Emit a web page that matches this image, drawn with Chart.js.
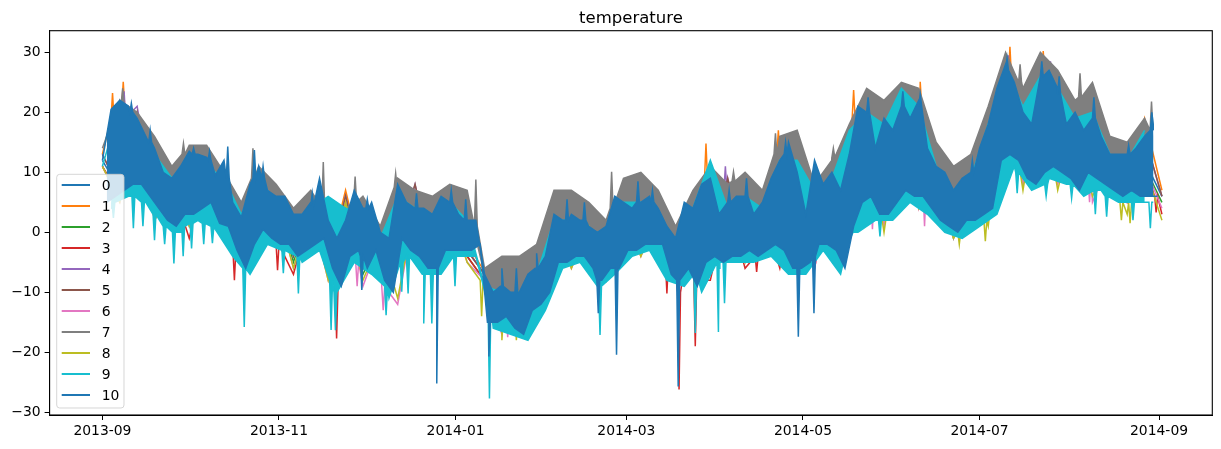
<!DOCTYPE html>
<html>
<head>
<meta charset="utf-8">
<title>temperature</title>
<script src="https://cdn.jsdelivr.net/npm/chart.js@4.4.1/dist/chart.umd.min.js"></script>
<style>
  html, body { margin: 0; padding: 0; background: #fff; }
</style>
</head>
<body>
<canvas id="chart" width="1221" height="449"></canvas>
<script>
// x values are days since 2013-09-01
const tickDays = [0, 61, 122, 181, 242, 303, 365];
const tickLabels = ['2013-09', '2013-11', '2014-01', '2014-03', '2014-05', '2014-07', '2014-09'];
const yTicks = [-30, -20, -10, 0, 10, 20, 30];
const seriesNames = ['0', '1', '2', '3', '4', '5', '6', '7', '8', '9', '10'];
const colors = ['#1f77b4', '#ff7f0e', '#2ca02c', '#d62728', '#9467bd', '#8c564b',
                '#e377c2', '#7f7f7f', '#bcbd22', '#17becf', '#1f77b4'];

// highs and lows, one pair per step of days,
// plus the short spikes that stick out of the band: [days, peak values, level around them]

// series 10 (on top) every 3 days
const s10Hi = [12,20.5,22,21,19,16,14,10,9,11,13.5,13,12.5,9.5,12,5,2.5,8,11,7,6,
  6,3,3,5,9,2,-1,2,7,4,5,0,-1,8,5,4,4,3,6,5,
  3,2,2,-7,-10,-9,-10,-10,-7,-6,-4,3,2,3,2,1,0,1,6,5,
  4,5,6,4,1,-1,5,4,8,9,3,5,6,6,3,5,9,12,15,10,
  3,12,8,10,7,13,21,20,14,19,17,21,19,22,14,11,10,7,9,10,
  14,18,24,28,25,20,18,26,27,24,18,20,17,19,16,13,13,13,14,16,18];
const s10Lo = [5,6,7,8,8,6,4,2,1,3,3,4,5,1.5,1,-3,-6,-2,0.5,-1,-2,
  -2,-4,-3,-2,-1,-6,-9,-4,-3,-6,-3,-8,-10,-1,-3,-4,-6,-6,-3,-3,
  -3,-3,-2,-15,-15,-14,-16,-17,-13,-12,-10,-5,-5,-4,-4,-6,-8,-6,-6,-3,
  -3,-2,-2,-2,-7,-8,-6,-9,-5,-4,-5,-4,-4,-3,-4,-3,-2,-3,-6,-6,
  -5,-2,-2,-3,-6,1,5,6,3,3,5,7,6,6,4,2,1,0,2,2,
  3,4,12,13,12,9,8,10,11,10,9,7,10,9,8,7,6,7,6,6,6];
const s10Peaks = [
  [10, 16.5, 31.5, 37, 43.3, 52.5, 55.5, 72.5, 91.5, 108.5, 120.5, 125.5, 138, 143, 150,
   160.5, 166.5, 185, 190, 216.5, 222.5, 236, 264.5, 276.5, 282.5, 300.5, 312.5, 324.5, 330.5,
   342.5, 354.5, 362.5],
  [21.5, 17, 14, 13.5, 14.3, 13.7, 11, 6.5, 5.5, 6.5, 7, 5.5, -6, -6, -3.5,
   5.5, 5, 8.5, 7, 7, 9, 15, 22.5, 23.5, 23, 12, 29, 28.5, 26,
   22.5, 14.5, 20],
  [20, 15, 13, 12, 9, 9, 9, 4.5, 4, 4, 5, 2, -9, -10, -6,
   2, 2, 5, 5, 5, 6, 13, 20, 21, 21, 10, 27, 26, 23,
   19, 13, 17]];
const s10Dips = [
  [89.6, 115.5, 133.5, 171.3, 177.6, 198.9, 240.4, 245.8],
  [-9.6, -25.2, -20.7, -13.5, -20.4, -25.7, -17.4, -13.5],
  [-4, -6, -15, -8, -6, -8, -6, -4]];

// series 7 and 9 every 6 days
const s7Hi = [14,22,20,16,11,14.5,14.5,10,5,11, 8,4,7,2,4,6,1,9,7,6,
  8,7,-6,-4,-4,-2,7,7,5,2, 9,10,7,1,7,11,8,10,7,16,
  17,8,12,18,24,22,25,24,15,11, 13,21,30,24,30,27,22,25,16,15, 19];
const s7Lo = [8,10,9,5,3,5,6,3,-3,2, 0,-2,0,-4,-2,-2,-6,0,-2,-3,
  -1,-1,-13,-11,-12,-9,-2,-2,-3,-3, -1,0,0,-5,-3,-2,-2,-1,-1,-1,
  -2,0,-1,4,8,6,8,8,4,2, 4,12,14,11,12,11,9,11,8,8, 8];
const s7Peaks = [
  [7, 28, 52, 76.3, 87.3, 101.3, 129, 175.9, 218, 232.5, 252.5, 317, 337.7, 362.4],
  [24, 14.8, 14, 11.7, 9.3, 9.8, 8.8, 10.1, 10.1, 16.5, 14, 28, 26.5, 21.8],
  [21.5, 13, 9, 4, 5, 7.5, 1, 4, 8.5, 13, 12.5, 25, 22.5, 17]];
const s9Hi = [11,21,18,13,9,12,11,9,3,9, 5,2,4,6,4,3,-1,6,4,3,
  5,2,-9,-10,-11,-7,2,2,0,0, 5,5,3,-2,4,12,4,6,4,12,
  12,7,9,17,20,18,24,21,11,7, 9,18,27,21,26,24,19,20,13,12, 17];
const s9Lo = [4,6,5,1,0,2,0.5,-4,-7,-2, -3,-5,-3,-10,-5,-7,-11,-4,-7,-7,
  -4,-4,-16,-17,-18,-13,-6,-5,-9,-7, -4,-3,-8,-9,-10,-6,-5,-5,-4,-7,
  -7,-3,-7,0,2,2,5,3,0,-1, 1,3,11,7,9,8,6,7,5,5, 5];
const s9Dips = [
  [3.8, 10.7, 14, 18, 21.5, 24.7, 27.9, 30.8, 35, 38,
   49, 62.5, 67.7, 79, 80.5, 98, 103.4, 105.6, 111, 113.8,
   121.8, 133.7, 171.9, 204.8, 212.8, 214.9, 258.8, 268.6, 316, 326,
   334.8, 343, 346.9, 356, 362],
  [2.4, 0.7, 1, -1.3, -2, -5.2, -4, -2.7, -2, -1.8,
   -15.8, -6.8, -10.2, -16.3, -16.3, -13.8, -9.9, -10.2, -15.2, -15.2,
   -9, -27.7, -17.1, -16.8, -16.6, -11.8, -0.5, -0.7, 6.5, 6,
   5.7, 3, 2.6, 2, 0.7],
  [5, 6, 5, 3, 1, 0, 1, 1.5, 1.5, 1,
   -6, -3, -4, -8, -10, -9, -5, -4, -7, -7,
   -4, -12, -9, -7, -5, -5, 0, 2, 10, 8,
   8, 7, 6, 5, 5]];

// the rest every 12 days
const s0Hi = [12,19,9,13,4,6,5,6,0,5,5,-7,-9,3,2,5,4,4,5,5,10,10,20,21,11,10,28,26,20,13,12];
const s0Lo = [7,4,3,1,0,-4,-6,-6,-1,-5,-3,-14,-12,-4,-6,-2,-7,-4,-3,-3,-2,1,3,6,0,4,9,10,9,7,6];
const s1Hi = [13,19,10,13,4,7,6,7,0,6,7,-6.5,-5,6,4,8,6,6,7,6,16,11,23,23,14,12,29,28.5,21,15,19];
const s1Lo = [7,5,3,2,0,-3,-5,-5,-1,-4,-2,-13,-11,-3,-5,-1,-6,-3,-2,-2,-1,2,4,7,1,5,10,11,10,8,7];
const s1Peaks = [
  [3.5, 7.2, 208.5, 233.5, 259.5, 264.5, 282.5, 313.5, 325],
  [23.2, 25.1, 14.8, 17, 23.7, 23.2, 25.1, 30.9, 30.2],
  [19, 21, 9, 13, 19, 19, 21, 26, 26]];
const s2Hi = [11,18,8,12,3,5,4,5,-1,4,4,-8,-10,2,1,4,3,3,4,4,9,9,19,20,10,9,26,25,19,12,11];
const s2Lo = [6,3,2,0,-1,-5,-7,-7,-2,-6,-4,-15,-13,-5,-7,-3,-8,-5,-4,-4,-3,0,2,5,-1,3,8,9,8,6,5];
const s3Hi = [11,19,8,12,3,5,4,5,-1,5,4,-8,-10,2,1,4,3,3,5,4,9,9,19,20,10,9,26,25,19,12,11];
const s3Lo = [6,2,-1,1,-3,-7,-6,-5,-6,-5,-4,-15,-13,-5,-7,-3,-7,-8,-6,-6,-6,2,4,6,1,4,10,10,9,5,3];
const s3Dips = [
  [45.6, 60.5, 80.9, 195, 199.2, 204.8, 226, 364],
  [-8, -6.3, -17.7, -10.2, -26.2, -19, -6.6, 3.3],
  [-3, -2, -9, -5, -10, -8, -4, 6]];
const s4Hi = [13,21,9,14,4,7,6,6,0,8,6,-7,-6,4,3,7,5,6,9,6,14,12,22,21,12,10,28,29,21,14,16];
const s4Lo = [7,4,3,1,-1,-4,-6,-6,-2,-5,-3,-14,-12,-4,-6,-2,-7,-4,-3,-3,-2,1,3,6,0,4,9,10,9,7,6];
const s4Peaks = [[7.5, 215.2, 313, 327.5], [23.5, 11, 29.5, 28.5], [19, 7, 25, 24]];
const s5Hi = [13,20,9,13,4,7,6,6,0,8,6,-7,-7,4,3,7,5,6,9,6,14,12,22,21,12,10,28,28,21,14,16];
const s5Lo = [7,4,3,1,-1,-4,-6,-6,-2,-5,-3,-13,-12,-4,-6,-2,-7,-4,-3,-3,-2,1,3,6,0,4,9,10,9,7,6];
const s6Hi = [11,18,8,12,3,5,4,5,-1,4,4,-8,-10,2,1,4,3,3,4,4,9,9,19,20,10,9,26,25,19,12,11];
const s6Lo = [5,2,1,-1,-3,-6,-8,-9,-12,-7,-5,-17,-14,-6,-8,-4,-8,-6,-5,-5,-6,-1,1,4,-1,3,8,8,5,5,4];
const s6Dips = [
  [88, 97, 140, 145, 266, 270, 284, 341],
  [-9, -13, -17.5, -17.5, 0.5, 0.5, 1, 5],
  [-5, -9, -13, -13, 6, 7, 7, 9]];
const s8Hi = [11,18,8,12,3,5,4,5,-1,4,4,-8,-10,2,1,4,3,3,4,4,9,9,19,20,10,9,26,25,19,12,11];
const s8Lo = [5,2,1,-1,-3,-6,-8,-8,-11,-7,-5,-16,-14,-6,-8,-4,-8,-6,-5,-5,-5,-1,0,4,-1,1,7,7,6,3,2];
const s8Dips = [
  [131, 138, 143, 296, 305, 352, 355],
  [-14, -18, -18, -2, -1.5, 2, 1.5],
  [-8, -14, -14, 0, 2, 5, 5]];

// [step, highs, lows, peaks, dips, drawn as band]
const series = [
  [12, s0Hi, s0Lo, null, null, false],
  [12, s1Hi, s1Lo, s1Peaks, null, false],
  [12, s2Hi, s2Lo, null, null, false],
  [12, s3Hi, s3Lo, null, s3Dips, false],
  [12, s4Hi, s4Lo, s4Peaks, null, false],
  [12, s5Hi, s5Lo, null, null, false],
  [12, s6Hi, s6Lo, null, s6Dips, false],
  [6, s7Hi, s7Lo, s7Peaks, null, true],
  [12, s8Hi, s8Lo, null, s8Dips, false],
  [6, s9Hi, s9Lo, null, s9Dips, true],
  [3, s10Hi, s10Lo, s10Peaks, s10Dips, true]
];

const byX = (a, b) => a.x - b.x;

function gridPts(step, vals, offset) {
  return vals.map((v, k) => ({ x: k * step + offset, y: v }));
}

function spikePts(spk) {
  if (!spk) return [];
  const [days, vals, bases] = spk;
  const pts = [];
  days.forEach((d, k) => {
    pts.push({ x: d - 0.5, y: bases[k] }, { x: d, y: vals[k] }, { x: d + 0.5, y: bases[k] });
  });
  return pts;
}

// the hourly line swings so densely that the main series read as solid bands:
// those get high and low envelopes filled between them, the others a plain line
const datasets = [];
series.forEach(([step, hi, lo, peaks, dips, band], i) => {
  const order = seriesNames.length - 1 - i;   // later series drawn on top
  const base = {
    borderColor: colors[i],
    backgroundColor: colors[i],
    borderWidth: 1.5,
    pointRadius: 0,
    order
  };
  const hiPts = gridPts(step, hi, 0).concat(spikePts(peaks)).sort(byX);
  const loPts = gridPts(step, lo, step / 2).concat(spikePts(dips)).sort(byX);
  if (band) {
    datasets.push({ ...base, label: seriesNames[i], data: hiPts, fill: false });
    datasets.push({ ...base, label: seriesNames[i] + ' low', data: loPts, fill: datasets.length - 1 });
  } else {
    datasets.push({ ...base, label: seriesNames[i], data: hiPts.concat(loPts).sort(byX), fill: false });
  }
});

const FONT = '"DejaVu Sans", sans-serif';

// title, top/right spines and the boxed legend inside the axes
const overlay = {
  id: 'overlay',
  afterDraw(chart) {
    const { ctx, chartArea: a } = chart;
    ctx.save();
    ctx.strokeStyle = '#000';
    ctx.lineWidth = 1.1;
    ctx.strokeRect(a.left, a.top, a.right - a.left, a.bottom - a.top);

    ctx.fillStyle = '#000';
    ctx.font = '16.5px ' + FONT;
    ctx.textAlign = 'center';
    ctx.textBaseline = 'alphabetic';
    ctx.fillText('temperature', (a.left + a.right) / 2, 22.5);

    // legend
    const bx = 56.7, by = 174.3, bw = 67.3, bh = 233.7;
    ctx.beginPath();
    ctx.roundRect(bx, by, bw, bh, 3);
    ctx.fillStyle = 'rgba(255,255,255,0.8)';
    ctx.fill();
    ctx.strokeStyle = 'rgba(204,204,204,0.8)';
    ctx.lineWidth = 1;
    ctx.stroke();
    ctx.font = '13.9px ' + FONT;
    ctx.textAlign = 'left';
    ctx.textBaseline = 'middle';
    seriesNames.forEach((name, i) => {
      const y = 185 + i * 21;
      ctx.strokeStyle = colors[i];
      ctx.lineWidth = 2;
      ctx.beginPath();
      ctx.moveTo(61.7, y);
      ctx.lineTo(90, y);
      ctx.stroke();
      ctx.fillStyle = '#000';
      ctx.fillText(name, 101.7, y + 1);
    });
    ctx.restore();
  }
};

new Chart(document.getElementById('chart'), {
  type: 'line',
  data: { datasets },
  options: {
    responsive: false,
    animation: false,
    parsing: false,
    normalized: true,
    layout: { padding: { top: 30.7, right: 8.7, left: 0, bottom: 0 } },
    plugins: {
      legend: { display: false },
      title: { display: false },
      tooltip: { enabled: false },
      filler: { propagate: false }
    },
    scales: {
      x: {
        type: 'linear',
        min: -18.24,
        max: 383.4,
        afterFit: s => { s.height = 34; },
        afterBuildTicks: s => { s.ticks = tickDays.map(v => ({ value: v })); },
        ticks: {
          color: '#000',
          font: { family: FONT, size: 13.9 },
          padding: 3,
          maxRotation: 0,
          autoSkip: false,
          callback: (v) => tickLabels[tickDays.indexOf(v)]
        },
        grid: { drawOnChartArea: false, drawTicks: true, tickLength: 5, color: '#000', lineWidth: 1 },
        border: { display: true, color: '#000', width: 1 }
      },
      y: {
        min: -30.45,
        max: 33.6,
        afterFit: s => { s.width = 49.6; },
        afterBuildTicks: s => { s.ticks = yTicks.map(v => ({ value: v })); },
        ticks: {
          color: '#000',
          font: { family: FONT, size: 13.9 },
          padding: 4,
          callback: v => (v < 0 ? '\u2212' + Math.abs(v) : String(v))
        },
        grid: { drawOnChartArea: false, drawTicks: true, tickLength: 5, color: '#000', lineWidth: 1 },
        border: { display: true, color: '#000', width: 1 }
      }
    }
  },
  plugins: [overlay]
});
</script>
</body>
</html>
